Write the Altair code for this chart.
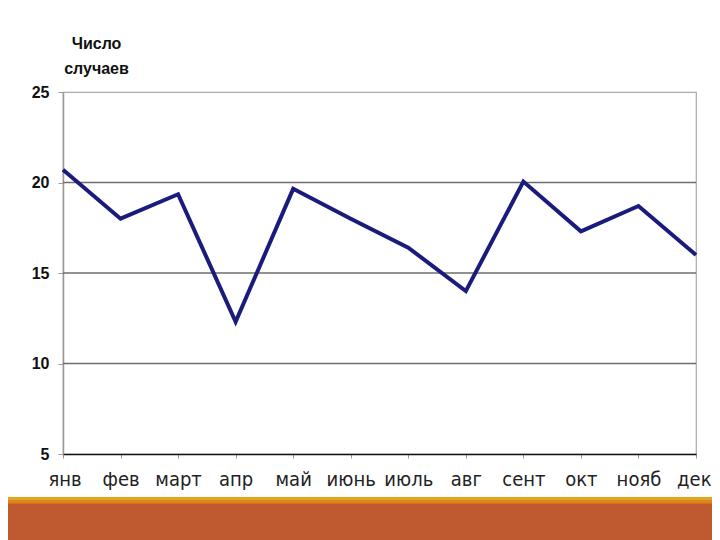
import altair as alt
import pandas as pd

months = ["янв", "фев", "март", "апр", "май", "июнь", "июль", "авг", "сент", "окт", "нояб", "дек"]
cases = [20.7, 18.0, 19.35, 12.3, 19.65, 18.0, 16.4, 14.0, 20.05, 17.3, 18.7, 16.0]
y_ticks = [5, 10, 15, 20, 25]
grid_values = [10, 15, 20]

df = pd.DataFrame({"month": months, "cases": cases})
grid_df = pd.DataFrame({"v": grid_values})

x_enc = alt.X("month:N", sort=months, scale=alt.Scale(padding=0),
              axis=alt.Axis(title=None, labelAngle=0, labelFont="Liberation Sans Narrow, DejaVu Sans Condensed, Liberation Sans",
                            labelFontSize=20, labelColor="#222222", labelPadding=11,
                            labelFlush=True, labelFlushOffset=15,
                            tickSize=4, tickColor="#999999", domainColor="#111111", domainWidth=1.5,
                            grid=False))
y_scale = alt.Scale(domain=[5, 25], nice=False, zero=False)

grid = alt.Chart(grid_df).mark_rule(color="#6e6e6e", strokeWidth=1.6).encode(
    y=alt.Y("v:Q", scale=y_scale)
)

line = alt.Chart(df).mark_line(color="#1b1b7c", strokeWidth=4, strokeJoin="miter").encode(
    x=x_enc,
    y=alt.Y("cases:Q", scale=y_scale,
            axis=alt.Axis(values=y_ticks, grid=False, title=["Число", "случаев"], titleAngle=0,
                          titleAlign="center", titleX=33, titleY=-44, titleBaseline="alphabetic",
                          titleFont="Liberation Sans", titleFontSize=16, titleFontWeight="bold",
                          titleLineHeight=25, titleColor="#111111",
                          labelFont="Liberation Sans", labelFontSize=16, labelFontWeight="bold",
                          labelColor="#111111", labelPadding=9, tickSize=5, tickColor="#999999",
                          domainColor="#999999", domainWidth=1.5))
)

def band(y0, y1, color):
    return alt.Chart(alt.Data(values=[{"a": 1}])).mark_rect(color=color).encode(
        x=alt.value(-55), x2=alt.value(649), y=alt.value(y0), y2=alt.value(y1)
    )

chart = alt.layer(
    grid, line,
    band(405, 408.5, "#E3A51C"),
    band(408, 412, "#E0861F"),
    band(411.5, 448, "#BF5A30"),
).properties(
    width=633, height=362,
    autosize=alt.AutoSizeParams(type="none"),
    padding={"left": 55, "top": 84, "right": 16, "bottom": 86},
    background="white",
).configure_view(stroke="#aaaaaa", strokeWidth=1.2)

chart.save("out.html", embed_options={"renderer": "svg", "actions": False})
